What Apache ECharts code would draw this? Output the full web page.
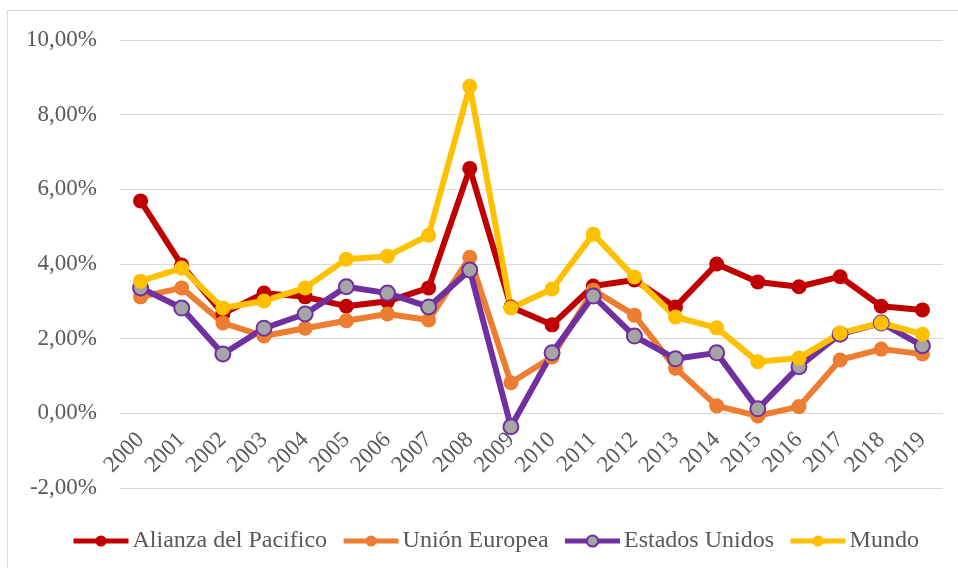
<!DOCTYPE html>
<html>
<head>
<meta charset="utf-8">
<script src="https://cdn.jsdelivr.net/npm/echarts@6/dist/echarts.min.js"></script>
<style>
  html, body { margin: 0; padding: 0; background: #fff; }
  .frame {
    position: absolute;
    left: 7px;
    top: 10px;
    width: 960px;
    height: 580px;
    border: 1px solid #d9d9d9;
  }
  #main {
    position: absolute;
    left: 0;
    top: 0;
    width: 958px;
    height: 568px;
  }
</style>
</head>
<body>
<div class="frame"></div>
<div id="main"></div>
<script>
// años
var years = ["2000", "2001", "2002", "2003", "2004", "2005", "2006", "2007", "2008", "2009",
  "2010", "2011", "2012", "2013", "2014", "2015", "2016", "2017", "2018", "2019"];

// crecimiento (%)
var alianza = [5.69, 3.97, 2.67, 3.22, 3.12, 2.87, 3.0, 3.36, 6.56, 2.85,
  2.37, 3.41, 3.57, 2.85, 4.0, 3.52, 3.39, 3.66, 2.87, 2.77];
var unionEuropea = [3.12, 3.36, 2.42, 2.07, 2.28, 2.48, 2.66, 2.5, 4.18, 0.82,
  1.51, 3.3, 2.63, 1.21, 0.2, -0.07, 0.18, 1.43, 1.72, 1.59];
var estadosUnidos = [3.36, 2.82, 1.59, 2.28, 2.66, 3.39, 3.22, 2.85, 3.84, -0.36,
  1.62, 3.14, 2.07, 1.46, 1.62, 0.12, 1.25, 2.12, 2.42, 1.81];
var mundo = [3.54, 3.89, 2.82, 3.01, 3.36, 4.13, 4.21, 4.77, 8.76, 2.82,
  3.33, 4.8, 3.65, 2.58, 2.29, 1.38, 1.48, 2.15, 2.42, 2.12];

var yTicks = { min: -2, max: 10, interval: 2 };

var fontFam = "'Liberation Serif', 'Times New Roman', serif";
var txtColor = "#595959";

// el eje de categorías cruza en 0: lo subimos 2 unidades (alto de grid / 12 * 2)
var gridTop = 40, gridBottom = 80;
var zeroOffset = -((568 - gridTop - gridBottom) / (yTicks.max - yTicks.min)) * (0 - yTicks.min);

function lineSeries(name, data, color, fill) {
  return {
    name: name,
    type: "line",
    data: data,
    symbol: "circle",
    symbolSize: 15,
    lineStyle: { width: 6, color: color },
    itemStyle: {
      color: fill || color,
      borderColor: color,
      borderWidth: fill ? 2 : 0,
    },
    emphasis: { disabled: true },
  };
}

var chart = echarts.init(document.getElementById("main"));
chart.setOption({
  animation: false,
  color: ["#c00000", "#ed7d31", "#7030a0", "#ffc000"],
  grid: { left: 120, right: 15, top: gridTop, bottom: gridBottom },
  legend: {
    left: 66,
    top: 524,
    itemWidth: 55,
    itemHeight: 14,
    itemGap: 14,
    lineStyle: { width: 5 },
    textStyle: { fontFamily: fontFam, fontSize: 24, color: txtColor, padding: [0, 0, 0, -1] },
  },
  xAxis: {
    type: "category",
    data: years,
    offset: zeroOffset,
    axisLine: { onZero: false, show: false },
    axisTick: { show: false },
    axisLabel: {
      rotate: 45,
      margin: 23,
      interval: 0,
      fontFamily: fontFam,
      fontSize: 23,
      color: txtColor,
    },
  },
  yAxis: {
    type: "value",
    min: yTicks.min,
    max: yTicks.max,
    interval: yTicks.interval,
    axisLine: { show: false },
    axisTick: { show: false },
    splitLine: { lineStyle: { color: "#d9d9d9", width: 1 } },
    axisLabel: {
      margin: 23,
      fontFamily: fontFam,
      fontSize: 23,
      color: txtColor,
      formatter: function (v) {
        return v.toFixed(2).replace(".", ",") + "%";
      },
    },
  },
  series: [
    lineSeries("Alianza del Pacifico", alianza, "#c00000"),
    lineSeries("Unión Europea", unionEuropea, "#ed7d31"),
    lineSeries("Estados Unidos", estadosUnidos, "#7030a0", "#a5a5a5"),
    lineSeries("Mundo", mundo, "#ffc000"),
  ],
});
</script>
</body>
</html>
